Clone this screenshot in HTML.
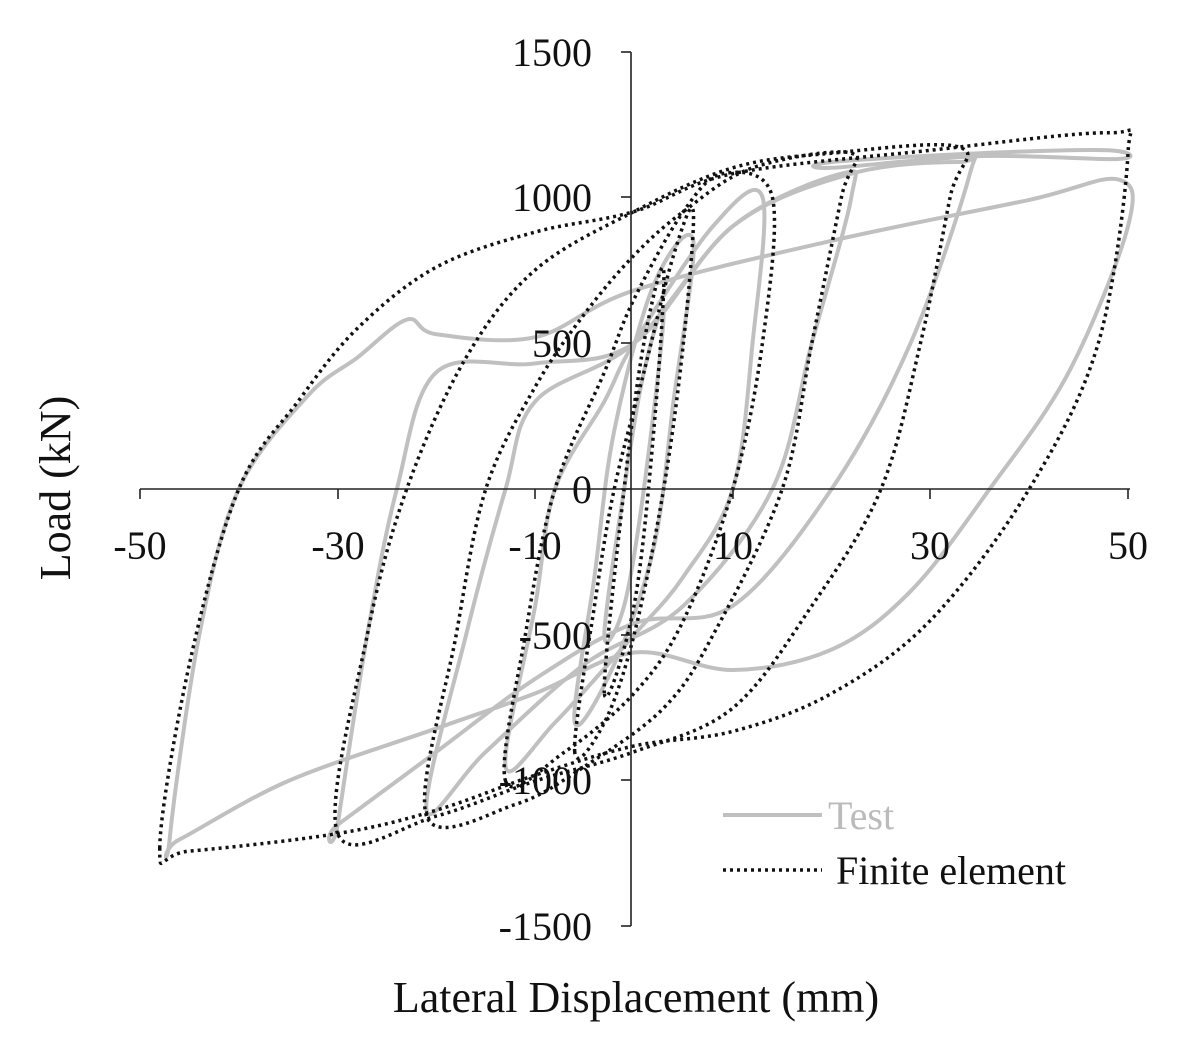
<!DOCTYPE html>
<html><head><meta charset="utf-8"><style>
body{margin:0;background:#fff}
svg text{font-family:"Liberation Serif",serif;font-size:40px;fill:#111}
</style></head><body>
<svg id="s" width="1182" height="1051" viewBox="0 0 1182 1051" xmlns="http://www.w3.org/2000/svg">
<g id="test" fill="none" stroke="#c0c0c0" stroke-width="4" stroke-linejoin="round"></g>
<g id="fe" fill="none" stroke="#111" stroke-width="3.5" stroke-dasharray="3 4"></g>
<g stroke="#222" stroke-width="1.6">
<line x1="631" y1="52" x2="631" y2="926"/>
<line x1="140" y1="489" x2="1130" y2="489"/>
<line x1="621" y1="52" x2="631" y2="52"/><line x1="621" y1="197" x2="631" y2="197"/>
<line x1="621" y1="343" x2="631" y2="343"/><line x1="621" y1="489" x2="631" y2="489"/>
<line x1="621" y1="635" x2="631" y2="635"/><line x1="621" y1="780" x2="631" y2="780"/>
<line x1="621" y1="926" x2="631" y2="926"/>
<line x1="140" y1="489" x2="140" y2="499"/><line x1="338" y1="489" x2="338" y2="499"/>
<line x1="535" y1="489" x2="535" y2="499"/><line x1="733" y1="489" x2="733" y2="499"/>
<line x1="930" y1="489" x2="930" y2="499"/><line x1="1128" y1="489" x2="1128" y2="499"/>
</g>
<g text-anchor="end">
<text x="592" y="66">1500</text><text x="592" y="211">1000</text><text x="592" y="357">500</text>
<text x="592" y="503">0</text><text x="592" y="649">-500</text><text x="592" y="794">-1000</text>
<text x="592" y="940">-1500</text>
</g>
<g text-anchor="middle">
<text x="140" y="559">-50</text><text x="338" y="559">-30</text><text x="535" y="559">-10</text>
<text x="733" y="559">10</text><text x="930" y="559">30</text><text x="1128" y="559">50</text>
<text x="636" y="1012" style="font-size:44px">Lateral Displacement (mm)</text>
<text transform="translate(70,488) rotate(-90)" style="font-size:44px">Load (kN)</text>
</g>
<line x1="723" y1="815" x2="822" y2="815" stroke="#c0c0c0" stroke-width="4"/>
<text x="828" y="829" style="fill:#bbb">Test</text>
<line x1="723" y1="870" x2="822" y2="870" stroke="#111" stroke-width="3.5" stroke-dasharray="3 4"/>
<text x="836" y="884">Finite element</text>
</svg>
<script>
function X(d){return 634+9.88*d}function Y(p){return 489-0.292*p}
function path(pts){var P=pts.map(function(a){return[X(a[0]),Y(a[1])]});var n=P.length,s="M"+P[0][0]+","+P[0][1];
for(var i=0;i<n;i++){var p0=P[(i-1+n)%n],p1=P[i],p2=P[(i+1)%n],p3=P[(i+2)%n];
s+="C"+(p1[0]+(p2[0]-p0[0])/6)+","+(p1[1]+(p2[1]-p0[1])/6)+" "+(p2[0]-(p3[0]-p1[0])/6)+","+(p2[1]-(p3[1]-p1[1])/6)+" "+p2[0]+","+p2[1];}
return s+"Z";}
var NS="http://www.w3.org/2000/svg";
function add(g,loops){var G=document.getElementById(g);loops.forEach(function(l){var e=document.createElementNS(NS,"path");e.setAttribute("d",path(l));G.appendChild(e);});}
add("test",[
[[-47,-1200],[-44,-500],[-40,0],[-33,320],[-28,450],[-23,580],[-20,530],[-10,520],[0,680],[20,850],[40,990],[49,1060],[50,900],[44,400],[36,0],[28,-350],[20,-550],[10,-620],[0,-560],[-10,-700],[-20,-820],[-35,-1000],[-46,-1200]],
[[-30,-1150],[-27,-500],[-24,0],[-20,400],[-10,430],[0,500],[10,900],[22,1080],[33,1120],[34,1080],[28,500],[20,0],[10,-400],[0,-460],[-10,-650],[-20,-900],[-30,-1150]],
[[-21,-1100],[-17,-500],[-13,0],[-10,300],[0,500],[10,900],[21,1080],[22,1000],[18,500],[14,0],[5,-400],[-5,-600],[-15,-900]],
[[-13,-950],[-10,-400],[-8,0],[-3,300],[0,500],[8,900],[13,1000],[12,500],[10,0],[5,-300],[0,-500],[-8,-800]],
[[-6,-800],[-4,-300],[-2,200],[2,700],[6,850],[4,300],[2,-200],[-2,-600]],
[[-3,-500],[-1,0],[1,400],[3,600],[1,0],[-1,-400]],
[[20,1120],[35,1150],[48,1160],[49,1130],[35,1140],[20,1100]]
]);
add("fe",[
[[-48,-1230],[-45,-600],[-40,0],[-34,300],[-28,550],[-20,760],[-10,880],[0,950],[10,1080],[30,1160],[48,1220],[50,1150],[47,500],[40,0],[30,-450],[20,-700],[10,-830],[0,-880],[-10,-980],[-20,-1100],[-30,-1180],[-45,-1240]],
[[-30,-1180],[-27,-500],[-23,0],[-17,450],[-10,750],[0,950],[10,1100],[20,1150],[33,1170],[32,1000],[29,500],[25,0],[18,-400],[10,-750],[0,-900],[-10,-1000],[-20,-1120]],
[[-21,-1120],[-18,-500],[-15,0],[-10,350],[-5,600],[0,800],[5,950],[12,1100],[22,1150],[21,1000],[18,500],[15,0],[8,-500],[3,-750],[-5,-950],[-12,-1080]],
[[-13,-1000],[-11,-500],[-8,0],[-3,400],[0,650],[5,950],[9,1080],[14,1000],[13,500],[10,0],[5,-450],[0,-700],[-7,-900]],
[[-6,-900],[-4,-400],[-2,0],[1,400],[4,800],[6,950],[5,500],[3,0],[0,-500],[-3,-800]],
[[-3,-700],[-1,0],[1,500],[3,750],[2,200],[0,-400]]
]);
</script>
</body></html>
